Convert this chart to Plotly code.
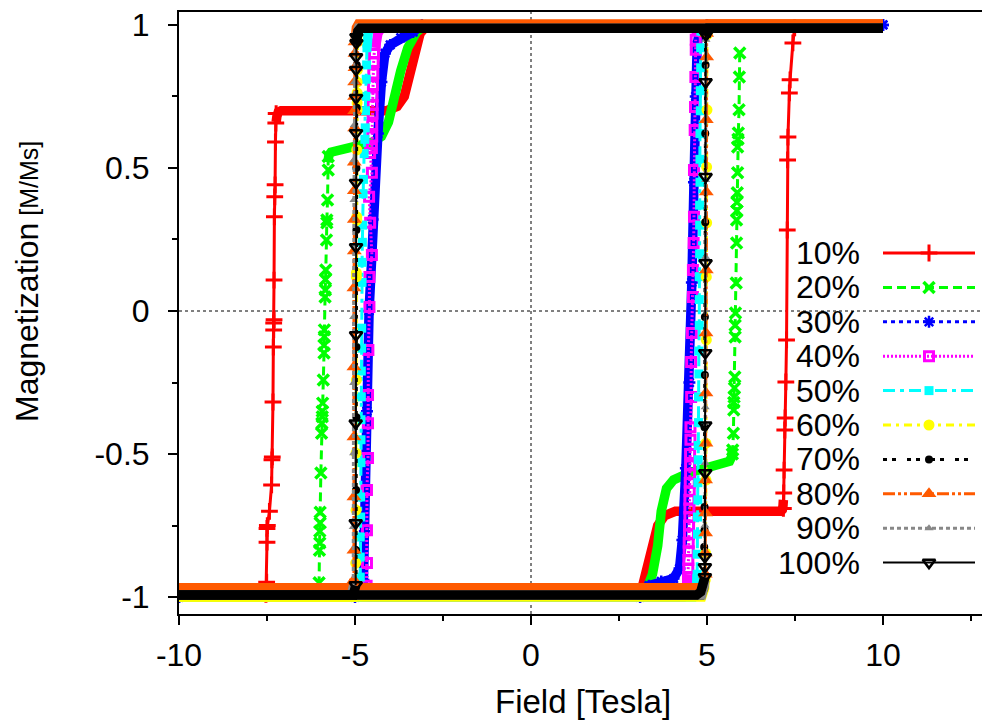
import plotly.graph_objects as go

# ---------------- data ----------------
labels = ["10%", "20%", "30%", "40%", "50%", "60%", "70%", "80%", "90%", "100%"]

# 10 %
h10_dn_band = [10, -2.95, -3.15, -3.3, -3.45, -3.6, -3.8, -4.1, -7.1, -7.18, -7.22, -7.24, None, -7.53, -7.6, -10]
m10_dn_band = [1, 1, 0.97, 0.9, 0.81, 0.75, 0.715, 0.70, 0.70, 0.695, 0.68, 0.66, None, -0.985, -1, -1]
h10_dn_jump = [-7.24, -7.25, -7.26, -7.27, -7.28, -7.29, -7.3, -7.3, -7.31, -7.31, -7.32, -7.33, -7.35, -7.36, -7.37, -7.43, -7.49, -7.5, -7.5, -7.51, -7.53]
m10_dn_jump = [0.69, 0.657, 0.591, 0.441, 0.399, 0.329, 0.108, -0.031, -0.042, -0.066, -0.126, -0.318, -0.51, -0.52, -0.608, -0.70, -0.75, -0.76, -0.808, -0.948, -0.99]
h10_up_band = [-10, 2.95, 3.15, 3.3, 3.45, 3.6, 3.8, 4.1, 7.1, 7.14, 7.16, 7.17, None, 7.48, 7.55, 10]
m10_up_band = [-1, -1, -0.97, -0.9, -0.81, -0.75, -0.715, -0.70, -0.70, -0.695, -0.68, -0.66, None, 0.985, 1, 1]
h10_up_jump = [7.17, 7.18, 7.19, 7.21, 7.22, 7.24, 7.26, 7.28, 7.29, 7.3, 7.34, 7.36, 7.44, 7.49]
m10_up_jump = [-0.69, -0.636, -0.556, -0.416, -0.374, -0.248, -0.101, 0.283, 0.528, 0.608, 0.762, 0.808, 0.937, 0.99]

# 20 %
h20_dn_band = [10, -3.0, -3.25, -3.5, -3.7, -3.88, -4.05, -4.25, -4.5, -5.0, -5.55, -5.68, -5.74, -5.77, None, -6.02, -6.1, -10]
m20_dn_band = [1, 1, 0.975, 0.92, 0.84, 0.74, 0.66, 0.61, 0.59, 0.575, 0.56, 0.555, 0.545, 0.52, None, -0.985, -1, -1]
h20_dn_jump = [-5.76, -5.76, -5.78, -5.8, -5.8, -5.81, -5.83, -5.84, -5.84, -5.85, -5.87, -5.87, -5.88, -5.88, -5.9,
               -5.92, -5.93, -5.93, -5.94, -5.95, -5.97, -5.99, -5.99, -6.0, -6.0, -6.01, -6.02]
m20_dn_jump = [0.54, 0.493, 0.388, 0.318, 0.308, 0.248, 0.143, 0.11, 0.073, 0.049, -0.066, -0.09, -0.12, -0.147, -0.241,
               -0.322, -0.35, -0.37, -0.392, -0.427, -0.566, -0.703, -0.741, -0.77, -0.811, -0.836, -0.95]
h20_up_band = [-10, 3.05, 3.28, 3.45, 3.6, 3.7, 3.85, 4.05, 4.5, 5.0, 5.5, 5.64, 5.7, 5.72, None, 5.93, 6.0, 10]
m20_up_band = [-1, -1, -0.975, -0.92, -0.82, -0.7, -0.62, -0.59, -0.565, -0.55, -0.535, -0.525, -0.51, -0.49, None, 0.985, 1, 1]
h20_up_jump = [5.72, 5.73, 5.75, 5.76, 5.76, 5.77, 5.78, 5.79, 5.8, 5.8, 5.81, 5.83, 5.84, 5.84, 5.85,
               5.85, 5.86, 5.87, 5.87, 5.88, 5.89, 5.91, 5.92, 5.93]
m20_up_jump = [-0.5, -0.486, -0.427, -0.346, -0.32, -0.301, -0.269, -0.231, -0.091, -0.05, -0.007, 0.098, 0.238, 0.318, 0.35,
               0.38, 0.413, 0.483, 0.573, 0.6, 0.622, 0.703, 0.818, 0.902]

# 30 % (continuous steep branch)
h30_dn_band = [10, -3.1, -3.35, -3.7, -4.0, -4.15, -4.25, -4.35, -4.5, -4.6, -4.66, -4.72, -4.76, -4.85, -5.0, -10]
m30_dn_band = [1, 1, 0.975, 0.955, 0.93, 0.9, 0.8, 0.62, 0.32, 0.0, -0.35, -0.77, -0.94, -0.99, -1, -1]
h30_up_band = [-10, 3.1, 3.35, 3.7, 4.05, 4.22, 4.3, 4.4, 4.5, 4.57, 4.63, 4.68, 4.72, 4.8, 5.0, 10]
m30_up_band = [-1, -1, -0.96, -0.945, -0.935, -0.9, -0.8, -0.55, -0.25, 0.1, 0.45, 0.75, 0.93, 0.99, 1, 1]
h30_dn_jump = h30_dn_band
m30_dn_jump = m30_dn_band
h30_up_jump = h30_up_band
m30_up_jump = m30_up_band

# 40 %
h40_dn_band = [10, -4.2, -4.35, -4.42, None, -4.66, -4.75, -10]
m40_dn_band = [1, 1, 0.97, 0.92, None, -0.96, -1, -1]
h40_dn_jump = [-4.44, -4.46, -4.47, -4.48, -4.49, -4.5, -4.5, -4.5, -4.51, -4.51, -4.52, -4.57, -4.52, -4.6, -4.57, -4.52,
               -4.59, -4.59, -4.62, -4.63, -4.63, -4.63, -4.66, -4.66, -4.66, -4.67]
m40_dn_jump = [0.93, 0.90, 0.87, 0.83, 0.79, 0.75, 0.72, 0.69, 0.65, 0.61, 0.57, 0.552, 0.483, 0.399, 0.308, 0.196,
               0.119, 0.014, -0.136, -0.294, -0.392, -0.514, -0.626, -0.766, -0.881, -0.96]
h40_up_band = [-10, 4.3, 4.42, 4.46, None, 4.68, 4.78, 10]
m40_up_band = [-1, -1, -0.96, -0.92, None, 0.96, 1, 1]
h40_up_jump = [4.46, 4.47, 4.47, 4.48, 4.48, 4.49, 4.49, 4.5, 4.5, 4.5, 4.51, 4.51, 4.52, 4.52, 4.52, 4.53, 4.53, 4.55,
               4.55, 4.57, 4.6, 4.6, 4.62, 4.63, 4.63, 4.65, 4.66, 4.67, 4.68, 4.68]
m40_up_jump = [-0.93, -0.9, -0.87, -0.84, -0.81, -0.78, -0.75, -0.72, -0.69, -0.66, -0.63, -0.6, -0.57, -0.54, -0.5, -0.45,
               -0.406, -0.301, -0.178, -0.077, 0.049, 0.143, 0.238, 0.329, 0.493, 0.633, 0.713, 0.818, 0.913, 0.948]

# 50 %
h50_dn_band = [10, -4.55, -4.63, -4.66, None, -4.85, -4.92, -10]
m50_dn_band = [1, 1, 0.97, 0.92, None, -0.96, -1, -1]
h50_dn_jump = [-4.66, -4.67, -4.68, -4.69, -4.7, -4.71, -4.72, -4.74, -4.76, -4.77, -4.78, -4.79, -4.8, -4.8, -4.81, -4.81,
               -4.82, -4.82, -4.83, -4.83, -4.83, -4.84, -4.84, -4.85, -4.85, -4.85]
m50_dn_jump = [0.92, 0.86, 0.81, 0.75, 0.7, 0.64, 0.6, 0.55, 0.46, 0.41, 0.30, 0.24, 0.17, 0.1, -0.06, -0.13,
               -0.21, -0.3, -0.38, -0.45, -0.53, -0.65, -0.72, -0.79, -0.86, -0.93]
h50_up_band = [-10, 4.6, 4.7, 4.72, None, 4.82, 4.9, 10]
m50_up_band = [-1, -1, -0.97, -0.92, None, 0.96, 1, 1]
h50_up_jump = [4.72, 4.72, 4.73, 4.73, 4.74, 4.74, 4.75, 4.75, 4.76, 4.76, 4.77, 4.77, 4.78, 4.78, 4.78, 4.79, 4.79,
               4.79, 4.8, 4.8, 4.8, 4.81, 4.81, 4.82, 4.82]
m50_up_jump = [-0.92, -0.85, -0.78, -0.72, -0.66, -0.6, -0.52, -0.47, -0.39, -0.3, -0.22, -0.14, -0.05, 0.04, 0.12, 0.2,
               0.3, 0.37, 0.45, 0.53, 0.62, 0.7, 0.77, 0.85, 0.92]

# 60 %
h60_dn_band = [10, -4.85, -4.92, -4.93, None, -4.98, -5.05, -10]
m60_dn_band = [1, 1, 0.97, 0.94, None, -0.96, -1, -1]
h60_dn_jump = [-4.93, -4.93, -4.94, -4.94, -4.94, -4.94, -4.95, -4.95, -4.95, -4.96, -4.96, -4.96, -4.97, -4.97, -4.98, -4.98]
m60_dn_jump = [0.94, 0.843, 0.80, 0.762, 0.727, 0.703, 0.563, 0.329, 0.318, 0.133, 0.119, -0.241, -0.497, -0.696, -0.881, -0.96]
h60_up_band = [-10, 4.85, 4.93, 4.95, None, 5.0, 5.08, 10]
m60_up_band = [-1, -1, -0.97, -0.94, None, 0.96, 1, 1]
h60_up_jump = [4.95, 4.96, 4.97, 4.97, 4.98, 4.98, 4.99, 4.99, 5.0, 5.0]
m60_up_jump = [-0.94, -0.846, -0.591, -0.462, -0.101, 0.119, 0.308, 0.503, 0.703, 0.965]

# 70 %
h70_dn_band = [10, -4.88, -4.94, -4.95, None, -4.97, -5.03, -10]
m70_dn_band = [0.99, 0.99, 0.97, 0.94, None, -0.96, -0.993, -0.993]
h70_dn_jump = [-4.95, -4.95, -4.95, -4.96, -4.96, -4.96, -4.96, -4.97, -4.97, -4.97]
m70_dn_jump = [0.94, 0.86, 0.71, 0.5, 0.283, -0.126, -0.371, -0.626, -0.836, -0.96]
h70_up_band = [-10, 4.82, 4.9, 4.92, None, 4.96, 5.03, 10]
m70_up_band = [-0.993, -0.993, -0.97, -0.94, None, 0.96, 0.99, 0.99]
h70_up_jump = [4.92, 4.92, 4.93, 4.93, 4.93, 4.94, 4.94, 4.95, 4.95, 4.96, 4.96]
m70_up_jump = [-0.94, -0.825, -0.766, -0.685, -0.406, -0.224, -0.021, 0.31, 0.62, 0.86, 0.96]

# 80 %
h80_dn_band = [10, -4.9, -4.96, -4.99, -5.0, None, -5.03, -5.06, -5.1, -10]
m80_dn_band = [1.003, 1.003, 0.99, 0.97, 0.94, None, -0.94, -0.958, -0.967, -0.967]
h80_dn_jump = [-5.0, -5.0, -5.0, -5.01, -5.01, -5.01, -5.01, -5.02, -5.02, -5.02, -5.02, -5.03, -5.03, -5.03, -5.03, -5.03, -5.03]
m80_dn_jump = [0.94, 0.90, 0.85, 0.80, 0.75, 0.70, 0.64, 0.52, 0.42, 0.32, 0.21, 0.08, -0.196, -0.44, -0.65, -0.836, -0.94]
h80_up_band = [-10, 4.85, 4.9, 4.93, 4.95, None, 4.99, 5.02, 5.06, 10]
m80_up_band = [-0.967, -0.967, -0.958, -0.94, -0.92, None, 0.97, 0.99, 1.003, 1.003]
h80_up_jump = [4.95, 4.95, 4.96, 4.96, 4.96, 4.97, 4.97, 4.97, 4.98, 4.98, 4.98, 4.99, 4.99]
m80_up_jump = [-0.92, -0.846, -0.776, -0.706, -0.591, -0.462, -0.287, -0.077, 0.143, 0.416, 0.668, 0.888, 0.97]

# 90 %
h90_dn_band = [10, -4.9, -4.97, -5.0, None, -5.04, -5.1, -10]
m90_dn_band = [0.988, 0.988, 0.96, 0.94, None, -0.96, -0.993, -0.993]
h90_dn_jump = [-5.0, -5.01, -5.02, -5.03, -5.03, -5.04, -5.04, -5.04, -5.05, -5.05]
m90_dn_jump = [0.94, 0.8, 0.65, 0.528, 0.388, -0.021, -0.252, -0.497, -0.755, -0.96]
h90_up_band = [-10, 4.85, 4.92, 4.94, None, 4.97, 5.04, 10]
m90_up_band = [-0.993, -0.993, -0.96, -0.94, None, 0.96, 0.988, 0.988]
h90_up_jump = [4.94, 4.94, 4.95, 4.95, 4.96, 4.96, 4.97]
m90_up_jump = [-0.94, -0.75, -0.531, -0.336, 0.189, 0.458, 0.948]

# 100 %
h100_dn_band = [10, -4.85, -4.92, -4.95, -4.97, None, -4.98, -5.0, -5.05, -10]
m100_dn_band = [0.988, 0.988, 0.978, 0.96, 0.93, None, -0.96, -0.982, -0.993, -0.993]
h100_dn_jump = [-4.96, -4.96, -4.97, -4.97, -4.97, -4.97, -4.97, -4.97, -4.97, -4.98, -4.98, -4.98]
m100_dn_jump = [0.958, 0.937, 0.888, 0.843, 0.745, 0.622, 0.448, 0.224, -0.084, -0.392, -0.741, -0.958]
h100_up_band = [-10, 4.7, 4.82, 4.9, 4.94, None, 4.97, 4.99, 5.05, 10]
m100_up_band = [-0.993, -0.993, -0.982, -0.96, -0.93, None, 0.96, 0.978, 0.988, 0.988]
h100_up_jump = [4.94, 4.94, 4.94, 4.95, 4.95, 4.95, 4.96, 4.96, 4.96, 4.97]
m100_up_jump = [-0.93, -0.895, -0.86, -0.566, -0.399, -0.147, 0.168, 0.469, 0.80, 0.965]

x_ticks = [-10, -5, 0, 5, 10]
x_ticktext = ["-10", "-5", "0", "5", "10"]
y_ticks = [-1, -0.5, 0, 0.5, 1]
y_ticktext = ["-1", "-0.5", "0", "0.5", "1"]

# ---------------- styles ----------------
styles = {
    "10%": dict(color="#ff0000", dash="solid", symbol="cross-thin", size=12, mlw=3, lw=3),
    "20%": dict(color="#00ff00", dash="9px,5px", symbol="x-thin", size=11, mlw=3.5, lw=3),
    "30%": dict(color="#0000ff", dash="4px,4px", symbol="asterisk-open", size=10, mlw=2.5, lw=3),
    "40%": dict(color="#ff00ff", dash="2px,2px", symbol="square-open", size=9, mlw=3, lw=3),
    "50%": dict(color="#00ffff", dash="12px,5px,4px,5px", symbol="square", size=9, mlw=0, lw=3),
    "60%": dict(color="#ffff00", dash="8px,5px,3px,5px", symbol="circle", size=11, mlw=0, lw=3),
    "70%": dict(color="#000000", dash="4px,5px,4px,11px", symbol="circle", size=8, mlw=0, lw=3),
    "80%": dict(color="#ff5a00", dash="12px,3px,3px,3px,3px,3px", symbol="triangle-up", size=13, mlw=0, lw=3),
    "90%": dict(color="#888888", dash="4px,3px", symbol="triangle-up", size=8, mlw=0, lw=3),
    "100%": dict(color="#000000", dash="solid", symbol="triangle-down-open", size=11, mlw=2.5, lw=2),
}

series = [
    ("10%", h10_dn_band, m10_dn_band, h10_up_band, m10_up_band, h10_dn_jump, m10_dn_jump, h10_up_jump, m10_up_jump),
    ("20%", h20_dn_band, m20_dn_band, h20_up_band, m20_up_band, h20_dn_jump, m20_dn_jump, h20_up_jump, m20_up_jump),
    ("30%", h30_dn_band, m30_dn_band, h30_up_band, m30_up_band, h30_dn_jump, m30_dn_jump, h30_up_jump, m30_up_jump),
    ("40%", h40_dn_band, m40_dn_band, h40_up_band, m40_up_band, h40_dn_jump, m40_dn_jump, h40_up_jump, m40_up_jump),
    ("50%", h50_dn_band, m50_dn_band, h50_up_band, m50_up_band, h50_dn_jump, m50_dn_jump, h50_up_jump, m50_up_jump),
    ("60%", h60_dn_band, m60_dn_band, h60_up_band, m60_up_band, h60_dn_jump, m60_dn_jump, h60_up_jump, m60_up_jump),
    ("70%", h70_dn_band, m70_dn_band, h70_up_band, m70_up_band, h70_dn_jump, m70_dn_jump, h70_up_jump, m70_up_jump),
    ("80%", h80_dn_band, m80_dn_band, h80_up_band, m80_up_band, h80_dn_jump, m80_dn_jump, h80_up_jump, m80_up_jump),
    ("90%", h90_dn_band, m90_dn_band, h90_up_band, m90_up_band, h90_dn_jump, m90_dn_jump, h90_up_jump, m90_up_jump),
    ("100%", h100_dn_band, m100_dn_band, h100_up_band, m100_up_band, h100_dn_jump, m100_dn_jump, h100_up_jump, m100_up_jump),
]

FONT = "Liberation Sans, Arial, sans-serif"
BAND_W = 9.5

fig = go.Figure()


def marker_dict(st):
    d = dict(symbol=st["symbol"], size=st["size"], color=st["color"])
    d["line"] = dict(color=st["color"], width=st["mlw"])
    return d


for name, hdb, mdb, hub, mub, hdj, mdj, huj, muj in series:
    st = styles[name]
    # dense-sample band (flat parts where points overlap)
    fig.add_trace(go.Scatter(
        x=list(hdb) + [None] + list(hub), y=list(mdb) + [None] + list(mub),
        mode="lines", line=dict(color=st["color"], width=BAND_W),
        showlegend=False, hoverinfo="skip", xaxis="x", yaxis="y"))
    # switching part with the visible sample points
    fig.add_trace(go.Scatter(
        x=list(hdj) + [None] + list(huj), y=list(mdj) + [None] + list(muj),
        mode="lines+markers", line=dict(color=st["color"], width=st["lw"], dash=st["dash"]),
        marker=marker_dict(st), showlegend=False, hoverinfo="skip", xaxis="x", yaxis="y"))

# ---------------- custom legend (gnuplot style: text right, sample left) -------------
PLOT_L, PLOT_R, PLOT_T, PLOT_B = 179, 982, 12, 614
LEG_TEXT_X = 862
LEG_LINE_X0, LEG_LINE_X1, LEG_MARK_X = 883, 975, 929
LEG_Y0, LEG_DY = 253, 34.4

annotations = []
for i, name in enumerate(labels):
    st = styles[name]
    yy = LEG_Y0 + i * LEG_DY
    fig.add_trace(go.Scatter(
        x=[LEG_LINE_X0, LEG_LINE_X1], y=[yy, yy], mode="lines",
        line=dict(color=st["color"], width=st["lw"], dash=st["dash"]),
        showlegend=False, hoverinfo="skip", xaxis="x2", yaxis="y2"))
    fig.add_trace(go.Scatter(
        x=[LEG_MARK_X], y=[yy], mode="markers", marker=marker_dict(st),
        showlegend=False, hoverinfo="skip", xaxis="x2", yaxis="y2"))
    annotations.append(dict(
        x=LEG_TEXT_X, y=yy, xref="x2", yref="y2", text=name, showarrow=False,
        xanchor="right", yanchor="middle", font=dict(family=FONT, size=32, color="black")))

# axis titles
annotations.append(dict(
    x=(583 - PLOT_L) / (PLOT_R - PLOT_L), y=(PLOT_B - 701) / (PLOT_B - PLOT_T), xref="paper", yref="paper",
    text="Field [Tesla]", showarrow=False, xanchor="center", yanchor="middle",
    font=dict(family=FONT, size=33, color="black")))
annotations.append(dict(
    x=(27 - PLOT_L) / (PLOT_R - PLOT_L), y=(PLOT_B - 282) / (PLOT_B - PLOT_T), xref="paper", yref="paper",
    text="Magnetization<span style='font-size:25px'> [M/Ms]</span>", showarrow=False, textangle=-90,
    xanchor="center", yanchor="middle", font=dict(family=FONT, size=32, color="black")))

shapes = [
    dict(type="line", xref="x", yref="paper", x0=0, x1=0, y0=0, y1=1,
         line=dict(color="black", width=1, dash="dot"), layer="below"),
    dict(type="line", xref="paper", yref="y", x0=0, x1=1, y0=0, y1=0,
         line=dict(color="black", width=1, dash="dot"), layer="below"),
]

xr_right = (PLOT_R - 531) / 35.2
fig.update_layout(
    width=982, height=724,
    margin=dict(l=PLOT_L, r=982 - PLOT_R, t=PLOT_T, b=724 - PLOT_B, pad=0),
    paper_bgcolor="white", plot_bgcolor="white",
    showlegend=False,
    font=dict(family=FONT, size=32, color="black"),
    xaxis=dict(range=[-10, xr_right], tickmode="array", tickvals=x_ticks, ticktext=x_ticktext,
               ticks="outside", ticklen=9, tickwidth=1.5, tickcolor="black",
               showline=True, linecolor="black", linewidth=2, mirror=True,
               showgrid=False, zeroline=False, ticklabelstandoff=3,
               tickfont=dict(family=FONT, size=32),
               minor=dict(tick0=0, dtick=2.5, ticks="outside", ticklen=5, tickwidth=1.5, tickcolor="black", showgrid=False)),
    yaxis=dict(range=[-1.059, 1.045], tickmode="array", tickvals=y_ticks, ticktext=y_ticktext,
               ticks="outside", ticklen=9, tickwidth=1.5, tickcolor="black",
               showline=True, linecolor="black", linewidth=2, mirror=False,
               showgrid=False, zeroline=False, ticklabelstandoff=12,
               tickfont=dict(family=FONT, size=32),
               minor=dict(tick0=0, dtick=0.25, ticks="outside", ticklen=5, tickwidth=1.5, tickcolor="black", showgrid=False)),
    xaxis2=dict(range=[PLOT_L, PLOT_R], overlaying="x", visible=False, fixedrange=True),
    yaxis2=dict(range=[PLOT_B, PLOT_T], overlaying="y", visible=False, fixedrange=True),
    annotations=annotations,
    shapes=shapes,
)

fig.write_html("out.html")
